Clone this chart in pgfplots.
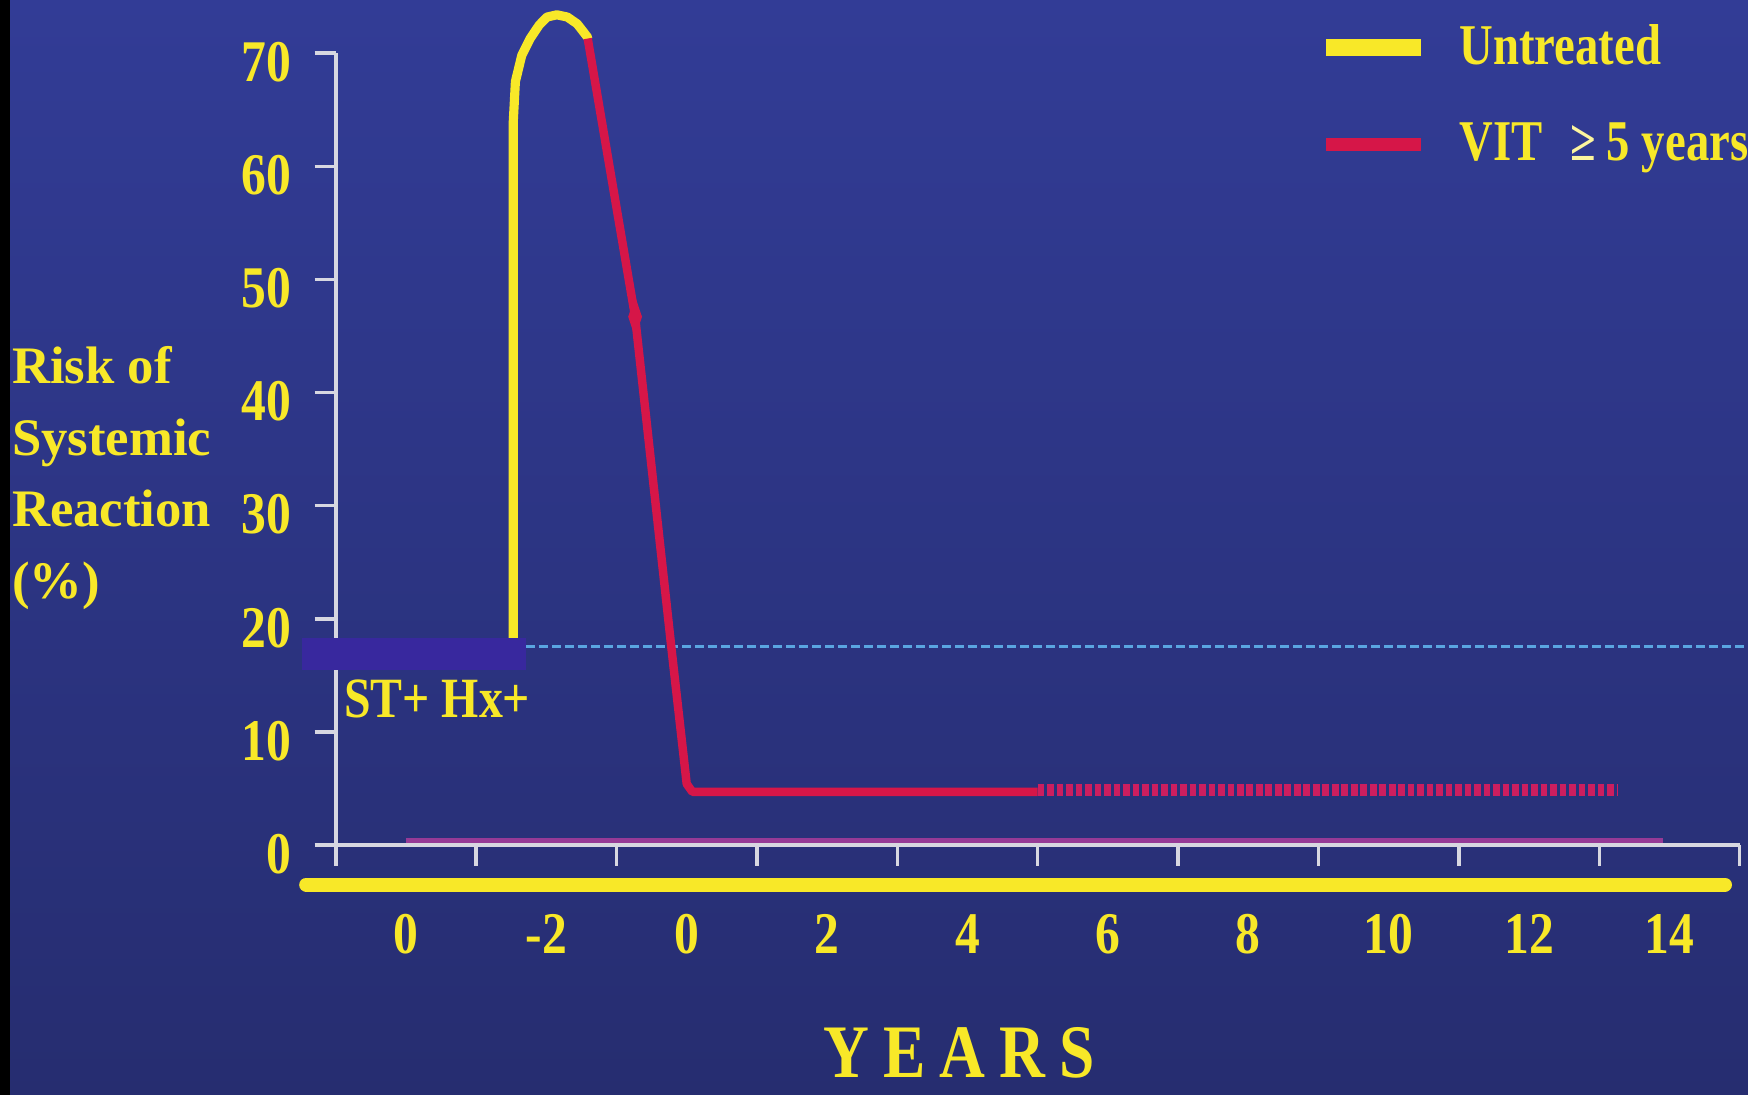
\documentclass[border=0pt]{standalone}
\usepackage{pgfplots}
\pgfplotsset{compat=1.18}
\usepackage{fontspec}
\setmainfont{Liberation Serif}
\newfontfamily\cond{Liberation Serif}[FakeStretch=0.84]
\newfontfamily\legf{Liberation Serif}[FakeStretch=0.81]
\usetikzlibrary{backgrounds}
\definecolor{ylw}{RGB}{248,232,40}
\definecolor{vit}{RGB}{214,22,72}
\definecolor{vitdot}{RGB}{205,30,95}
\definecolor{axgray}{RGB}{215,215,225}
\definecolor{purp}{RGB}{150,58,150}
\definecolor{dashblue}{RGB}{90,165,225}
\definecolor{boxblue}{RGB}{56,40,158}
\definecolor{bgtop}{RGB}{50,60,150}
\definecolor{bgbot}{RGB}{38,45,112}
\begin{document}
\begin{tikzpicture}
\begin{axis}[
  x=0.702cm, y=0.1131cm,
  xmin=-5, xmax=15, ymin=0, ymax=70,
  clip=false,
  axis x line*=bottom, axis y line*=left,
  axis line style={axgray, line width=1.1pt},
  tick style={axgray, line width=1pt},
  tick align=outside,
  major tick length=0pt,
  minor tick length=0.21cm,
  xtick={-4,-2,...,14},
  xticklabels={0,-2,0,2,4,6,8,10,12,14},
  minor xtick={-3,-1,...,15},
  ytick={0,10,...,70},
  yticklabels={0,10,20,30,40,50,60,70},
  minor ytick={0,10,...,70},
  tick label style={font=\cond\bfseries\fontsize{16.8}{18}\selectfont, text=ylw, inner sep=0pt},
  xticklabel style={anchor=north, yshift=-0.69cm},
  yticklabel style={anchor=east, xshift=-0.44cm, yshift=-0.09cm},
  xlabel={Y\kern4pt E\kern4pt A\kern4pt R\kern4pt S},
  xlabel style={at={(axis description cs:0.444,-0.263)}, anchor=center, inner sep=0pt,
    font=\cond\bfseries\fontsize{21.5}{24}\selectfont, text=ylw},
  ylabel={Risk of\\Systemic\\Reaction\\(\%)},
  ylabel style={rotate=-90, align=left, anchor=north west, inner sep=0pt,
    at={(axis description cs:-0.231,0.630)},
    font=\bfseries\fontsize{15}{20.3}\selectfont, text=ylw},
  legend style={at={(axis cs:8.99,72.5)}, anchor=north west, draw=none, fill=none,
    inner sep=0pt, outer sep=0pt, nodes={inner sep=0pt},
    font=\legf\bfseries\fontsize{16.4}{18}\selectfont, text=ylw,
    row sep=0.53cm, column sep=0.3cm},
  legend cell align=left,
  legend image code/.code={\draw[#1] (0cm,0cm) -- (0.95cm,0cm);},
]
\coordinate (BL) at (axis cs:-9.782,-22.10);
\coordinate (TR) at (axis cs:15.118,74.71);
\coordinate (BS) at (axis cs:-9.64,74.71);

% bottom yellow bar
\addplot[ylw, line width=4pt, line cap=round, forget plot] coordinates {(-5.42,-3.5) (14.79,-3.5)};
% purple baseline
\addplot[purp, line width=1.5pt, forget plot] coordinates {(-4,0.4) (13.9,0.4)};
% y axis extension below 0
\addplot[axgray, line width=1.1pt, forget plot] coordinates {(-5,0) (-5,-1.9)};
% dashed reference level
\addplot[dashblue, line width=0.9pt, dash pattern=on 2.6pt off 1.1pt, forget plot]
  coordinates {(-2.29,17.55) (15.118,17.55)};
% untreated
\addplot[ylw, line width=2.6pt, line join=round, line cap=round, forget plot] coordinates {
 (-2.47,18.3) (-2.47,64) (-2.44,67.5) (-2.35,69.8) (-2.23,71.3) (-2.10,72.5)
 (-1.99,73.2) (-1.85,73.4) (-1.70,73.2) (-1.56,72.6) (-1.41,71.4)};
% ST+ Hx+ box
\addplot[fill=boxblue, draw=none, forget plot] coordinates {
 (-5.48,15.5) (-2.29,15.5) (-2.29,18.3) (-5.48,18.3)} -- cycle;
% VIT
\addplot[vit, line width=2.4pt, line join=round, forget plot] coordinates {
 (-1.41,71.3) (-0.735,46.7) (-0.214,17.2) (0.0,5.4) (0.08,4.7) (5.0,4.7)};
\addplot[vitdot, line width=3.4pt, dash pattern=on 1.9pt off 0.8pt, forget plot]
  coordinates {(5.0,4.85) (13.25,4.85)};
\addplot[vit, only marks, mark=diamond*, mark size=2.6pt, mark options={yscale=2.0, xscale=0.9}, forget plot]
  coordinates {(-0.735,46.7)};

\node[anchor=base west, inner sep=0pt, text=ylw, font=\cond\bfseries\fontsize{16.2}{18}\selectfont]
  at (axis cs:-4.89,11.3) {ST+ Hx+};

\addlegendimage{ylw, line width=4.8pt}
\addlegendentry{Untreated}
\addlegendimage{vit, line width=3.7pt}
\addlegendentry{VIT\hspace{8pt}{\color{ylw!45!white}≥}\hspace{3pt}5 years}
\end{axis}
\begin{scope}[on background layer]
  \shade[top color=bgtop, bottom color=bgbot] (BL) rectangle (TR);
  \fill[black] (BL) rectangle (BS);
\end{scope}
\pgfresetboundingbox
\useasboundingbox (BL) rectangle (TR);
\end{tikzpicture}
\end{document}
